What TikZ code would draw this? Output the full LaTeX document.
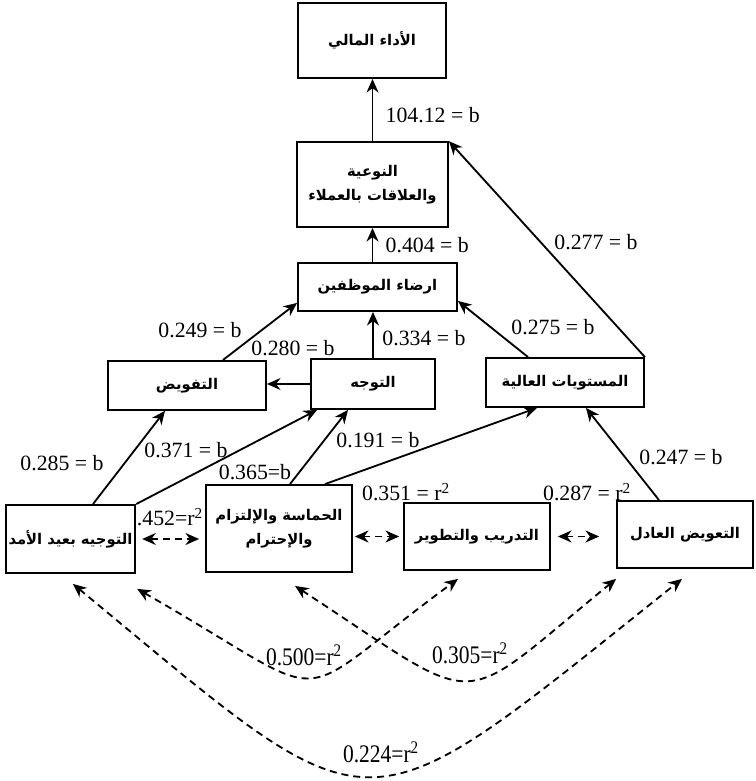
\documentclass[tikz,border=0pt]{standalone}
\usepackage{fontspec}
\setmainfont{Liberation Serif}
\newfontfamily\arabicfont[Script=Arabic]{DejaVu Sans}
\newfontfamily\narrowfont[FakeStretch=0.85]{Liberation Serif}
\TeXXeTstate=1
\usetikzlibrary{arrows.meta}
\newcommand{\artext}[1]{{\arabicfont\bfseries\beginR #1\endR}}

\begin{document}
\begin{tikzpicture}[
  varbox/.style 2 args={draw, line width=1.3pt, minimum width=#1, minimum height=#2,
    inner sep=2pt, align=center, font=\fontsize{10.5}{17}\selectfont},
  effect/.style={line width=1.3pt, -{Stealth[length=3.4mm,width=3mm]}},
  corr/.style={line width=1.3pt, dash pattern=on 5pt off 3.5pt,
    {Stealth[length=3.4mm,width=3mm]}-{Stealth[length=3.4mm,width=3mm]}},
  coef/.style={inner sep=1pt, font=\fontsize{15.5}{18}\selectfont},
  rcoef/.style={inner sep=1pt, font={\narrowfont\fontsize{18}{20}\selectfont}}]
  \useasboundingbox (0,0) rectangle (18.875,19.525);
  % variables
  \node[varbox={3.7cm}{1.875cm}] (perf) at (9.3,18.51) {\artext{الأداء المالي}};
  \node[varbox={3.775cm}{2.125cm}] (quality) at (9.3125,14.91) {\artext{النوعية}\\\artext{والعلاقات بالعملاء}};
  \node[varbox={3.975cm}{1.2cm}] (satisf) at (9.4375,12.35) {\artext{ارضاء الموظفين}};
  \node[varbox={3.95cm}{1.225cm}] (deleg) at (4.675,9.89) {\artext{التفويض}};
  \node[varbox={3.1cm}{1.25cm}] (orient) at (9.325,9.925) {\artext{التوجه}};
  \node[varbox={3.95cm}{1.225cm}] (high) at (14.125,9.9625) {\artext{المستويات العالية}};
  \node[varbox={3.175cm}{1.7cm}] (longterm) at (1.7625,6.05) {\artext{التوجيه بعيد الأمد}};
  \node[varbox={3.65cm}{2.175cm}] (enthus) at (6.975,6.3125) {\artext{الحماسة والإلتزام}\\\artext{والإحترام}};
  \node[varbox={3.65cm}{1.675cm}] (training) at (11.925,6.1125) {\artext{التدريب والتطوير}};
  \node[varbox={3.4cm}{1.675cm}] (fair) at (17.125,6.1625) {\artext{التعويض العادل}};

  % paths with b
  \draw[effect] (quality.north) -- (quality.north |- perf.south);
  \draw[effect] (satisf.north -| quality.south) -- (quality.south);
  \draw[effect] (high.north east) -- (quality.north east);
  \draw[effect] ([xshift=0.9cm]deleg.north) -- ([yshift=0.225cm]satisf.south west);
  \draw[effect] (orient.north) -- (orient.north |- satisf.south);
  \draw[effect] (orient.west) -- (orient.west -| deleg.east);
  \draw[effect] ([xshift=-0.925cm]high.north) -- ([yshift=0.275cm]satisf.south east);
  \draw[effect] ([xshift=0.5625cm]longterm.north) -- ([xshift=-0.55cm]deleg.south);
  \draw[effect] (longterm.north east) -- ([xshift=0.175cm]orient.south west);
  \draw[effect] ([xshift=0.275cm]enthus.north) -- ([xshift=-0.625cm]orient.south);
  \draw[effect] ([xshift=1.15cm]enthus.north) -- ([xshift=-0.7cm]high.south);
  \draw[effect] ([xshift=-0.65cm]fair.north) -- ([xshift=0.525cm]high.south);

  \node[coef, anchor=west] (bperf) at (9.6,16.65) {104.12 = b};
  \node[coef, anchor=west] (bquality) at (9.6,13.4) {0.404 = b};
  \node[coef] (bhighq) at (14.9,13.475) {0.277 = b};
  \node[coef] (bdeleg) at (5.0,11.275) {0.249 = b};
  \node[coef] (borientd) at (7.325,10.825) {0.280 = b};
  \node[coef] (borients) at (10.6,11.075) {0.334 = b};
  \node[coef] (bhighs) at (13.825,11.35) {0.275 = b};
  \node[coef] (blongd) at (1.55,7.95) {0.285 = b};
  \node[coef] (blongo) at (4.65,8.275) {0.371 = b};
  \node[coef] (benthuso) at (6.375,7.725) {0.365=b};
  \node[coef] (benthush) at (9.45,8.525) {0.191 = b};
  \node[coef] (bfair) at (17.025,8.1) {0.247 = b};

  % correlations
  \draw[corr, shorten <=0.15cm, shorten >=0.15cm] (longterm.east) -- (longterm.east -| enthus.west);
  \draw[corr, shorten <=0.05cm, shorten >=0.1cm] (training.west -| enthus.east) -- (training.west);
  \draw[corr, shorten <=0.175cm, shorten >=0.425cm] (training.east) -- (training.east -| fair.west);
  \draw[corr] ([xshift=0.025cm,yshift=-0.375cm]longterm.south east)
    .. controls (8.62,1.8375) and (7.005,1.7875) .. ([xshift=-0.475cm,yshift=-0.2cm]training.south);
  \draw[corr] ([xshift=0.4cm,yshift=-0.325cm]enthus.south)
    .. controls (12.2,1.72) and (11.3,1.7) .. ([yshift=-0.25cm]fair.south west);
  \draw[corr] ([xshift=0.06cm,yshift=-0.25cm]longterm.south)
    .. controls (9.5875,-1.4925) and (8.825,-1.4975) .. ([xshift=-0.075cm,yshift=-0.25cm]fair.south);

  \node[coef] (rlong) at (4.25,6.6) {.452=r\textsuperscript{2}};
  \node[coef] (renthus) at (10.15,7.225) {0.351 = r\textsuperscript{2}};
  \node[coef] (rtrain) at (14.675,7.225) {0.287 = r\textsuperscript{2}};
  \node[rcoef] (rlongt) at (7.6,3.15) {0.500=r\textsuperscript{2}};
  \node[rcoef] (renthusf) at (11.75,3.2) {0.305=r\textsuperscript{2}};
  \node[rcoef] (rlongf) at (9.525,0.725) {0.224=r\textsuperscript{2}};
\end{tikzpicture}
\end{document}
